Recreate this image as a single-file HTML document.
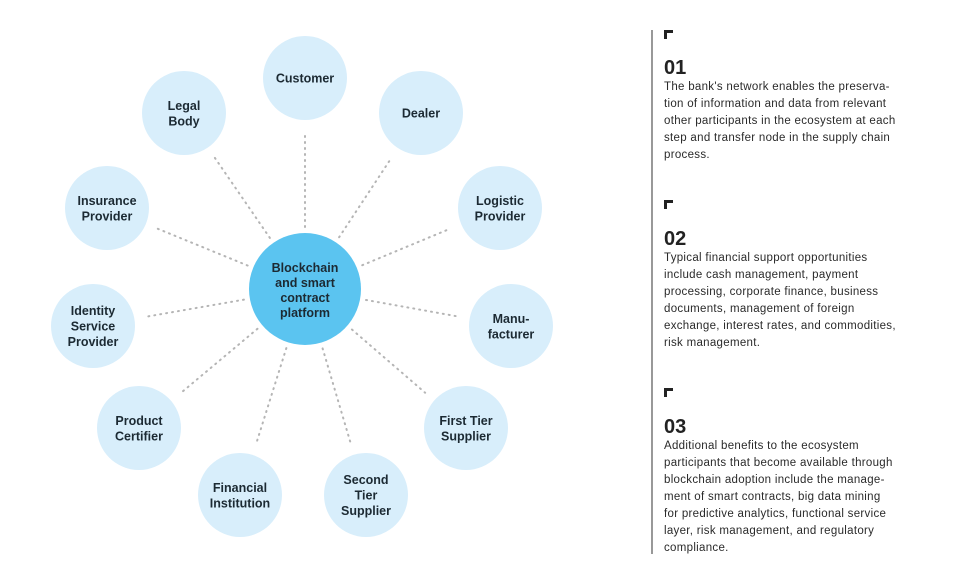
<!DOCTYPE html>
<html><head><meta charset="utf-8"><style>
body{margin:0;width:970px;height:582px;background:#fff;position:relative;overflow:hidden;font-family:"Liberation Sans",sans-serif}
svg{position:absolute;left:0;top:0}
.t{position:absolute;left:664px;white-space:nowrap;color:#2a2a2a;font-size:11.5px;letter-spacing:0.3px;line-height:17px}
.n{position:absolute;left:664px;font-size:20px;font-weight:bold;color:#222}
.m{position:absolute;left:664px;width:9px;height:9px;border-left:3px solid #222;border-top:3px solid #222;box-sizing:border-box}
</style></head><body>
<svg width="970" height="582" viewBox="0 0 970 582" font-family="Liberation Sans, sans-serif" font-weight="bold" font-size="12.5" fill="#1c2a33" text-anchor="middle">
<g stroke="#b5b5b5" stroke-width="2" stroke-dasharray="1 5" stroke-linecap="round" fill="none" id="ln"></g>
<g id="nodes"></g>
<circle cx="305" cy="289" r="56" fill="#5bc4f0"/>
<text x="305" y="272">Blockchain</text><text x="305" y="287">and smart</text><text x="305" y="302">contract</text><text x="305" y="317">platform</text>
<script>
var N=[[305,78,["Customer"]],[421,113,["Dealer"]],[500,208,["Logistic","Provider"]],[511,326,["Manu-","facturer"]],[466,428,["First Tier","Supplier"]],[366,495,["Second","Tier","Supplier"]],[240,495,["Financial","Institution"]],[139,428,["Product","Certifier"]],[93,326,["Identity","Service","Provider"]],[107,208,["Insurance","Provider"]],[184,113,["Legal","Body"]]];
var ns="http://www.w3.org/2000/svg",L=document.getElementById("ln"),G=document.getElementById("nodes");
N.forEach(function(n){var dx=n[0]-305,dy=n[1]-289,d=Math.hypot(dx,dy),ux=dx/d,uy=dy/d;
var l=document.createElementNS(ns,"line");l.setAttribute("x1",305+ux*62);l.setAttribute("y1",289+uy*62);l.setAttribute("x2",n[0]-ux*54);l.setAttribute("y2",n[1]-uy*54);L.appendChild(l);
var c=document.createElementNS(ns,"circle");c.setAttribute("cx",n[0]);c.setAttribute("cy",n[1]);c.setAttribute("r",42);c.setAttribute("fill","#d8eefb");G.appendChild(c);
var k=n[2].length;n[2].forEach(function(s,i){var t=document.createElementNS(ns,"text");t.setAttribute("x",n[0]);t.setAttribute("y",n[1]+4.5+(i-(k-1)/2)*15.5);t.textContent=s;G.appendChild(t);});});
</script>
<line x1="652" y1="30" x2="652" y2="554" stroke="#555" stroke-width="1.2"/>
</svg>
<div class="m" style="top:30px"></div>
<div class="n" style="top:57px">01</div>
<div class="t" style="top:79px">The bank's network enables the preserva-<br>tion of information and data from relevant<br>other participants in the ecosystem at each<br>step and transfer node in the supply chain<br>process.</div>
<div class="m" style="top:200px"></div>
<div class="n" style="top:228px">02</div>
<div class="t" style="top:250px">Typical financial support opportunities<br>include cash management, payment<br>processing, corporate finance, business<br>documents, management of foreign<br>exchange, interest rates, and commodities,<br>risk management.</div>
<div class="m" style="top:388px"></div>
<div class="n" style="top:416px">03</div>
<div class="t" style="top:438px">Additional benefits to the ecosystem<br>participants that become available through<br>blockchain adoption include the manage-<br>ment of smart contracts, big data mining<br>for predictive analytics, functional service<br>layer, risk management, and regulatory<br>compliance.</div>
</body></html>
